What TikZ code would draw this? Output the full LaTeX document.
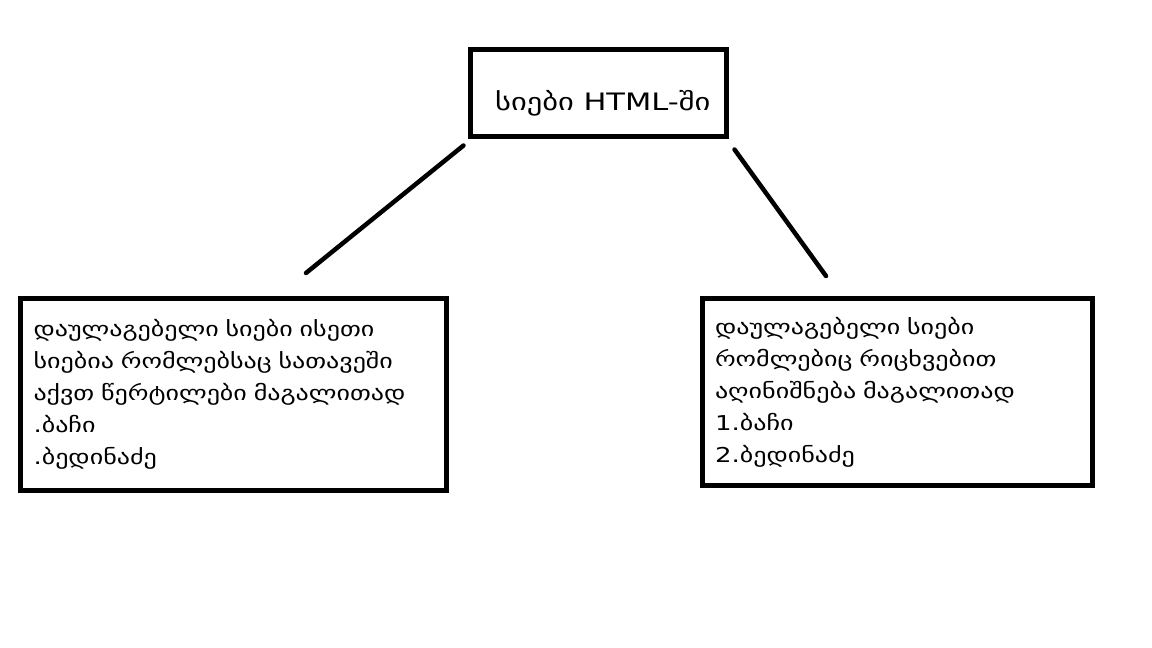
\documentclass[tikz,border=0pt]{standalone}
\usepackage{fontspec}
\setmainfont{DejaVu Sans}[FakeStretch=1.27]
\usetikzlibrary{calc}
\begin{document}
\begin{tikzpicture}[x=1pt,y=-1pt,
  box/.style={draw=black, line width=5pt, fill=white, inner ysep=0pt, inner xsep=13pt,
    font=\fontsize{20.5pt}{32pt}\selectfont, align=left},
  titlebox/.style={draw=black, line width=5pt, fill=white, inner sep=0pt,
    font=\fontsize{24pt}{30pt}\selectfont, text height=34pt, text depth=0pt},
  link/.style={draw=black, line width=4.5pt, line cap=round}]
\useasboundingbox[fill=white] (0,0) rectangle (1152,648);
\node[titlebox, minimum width=255.5pt, minimum height=87pt]
  (top) at (598.25,93) {\hspace*{9pt}სიები HTML-ში};
\node[box, minimum width=426pt, minimum height=192pt, text width=400pt]
  (left) at (233.5,394.5) {დაულაგებელი სიები ისეთი\\სიებია რომლებსაც სათავეში\\აქვთ წერტილები მაგალითად\\.ბაჩი\\.ბედინაძე};
\node[box, minimum width=390.5pt, minimum height=187pt, text width=364.5pt]
  (right) at (897.25,392) {დაულაგებელი სიები\\რომლებიც რიცხვებით\\აღინიშნება მაგალითად\\1.ბაჩი\\2.ბედინაძე\par\vspace*{8pt}};
\coordinate (lstart) at ($(top.south west)+(-4.5,6.5)$);
\coordinate (lend) at (306,273);
\coordinate (rstart) at ($(top.south east)+(6,10.5)$);
\coordinate (rend) at (826,276);
\draw[link] (lstart) -- (lend);
\draw[link] (rstart) -- (rend);
\end{tikzpicture}
\end{document}
